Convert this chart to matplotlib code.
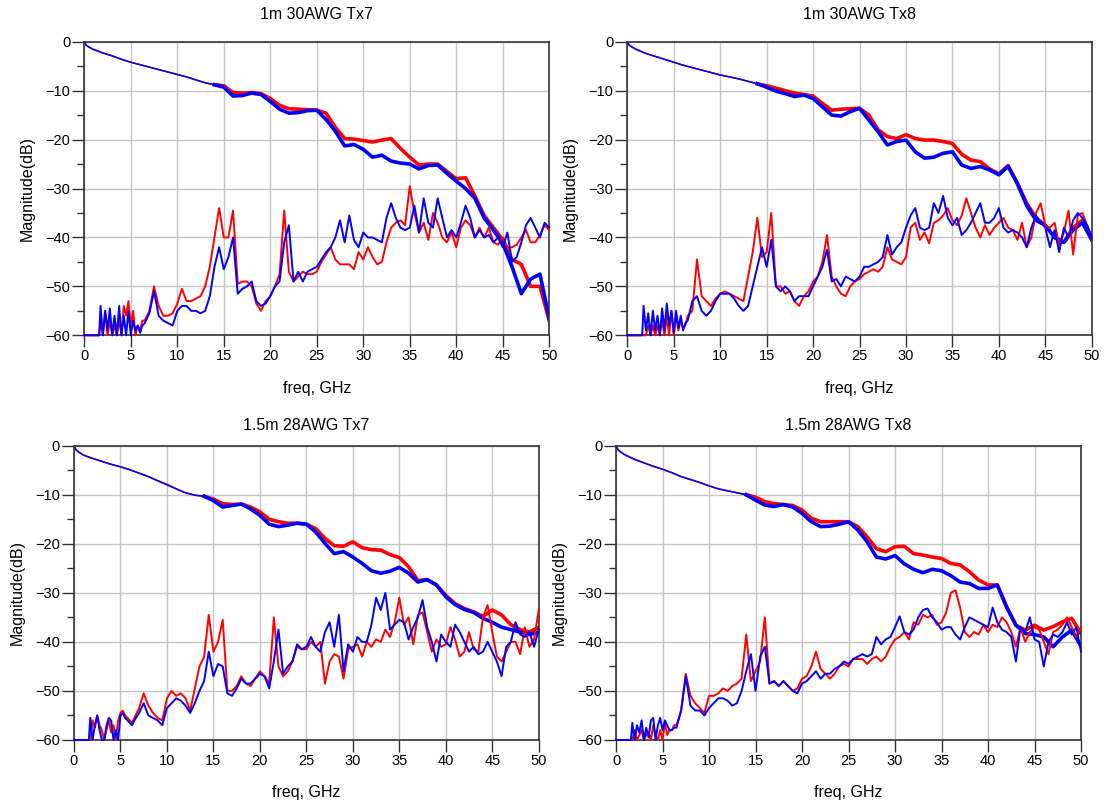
import matplotlib
matplotlib.use("Agg")
import matplotlib.pyplot as plt
import numpy as np

plt.rcParams['font.family'] = ['Liberation Sans', 'DejaVu Sans']

# frequency grids (GHz)
IL_FREQ = [0, 0.2, 0.5] + list(range(1, 51))
XT_FREQ = list(np.concatenate([[0, 1.6], np.arange(1.75, 6.3, 0.25), np.arange(6.5, 50.01, 0.5)]))

TITLES = ["1m 30AWG Tx7", "1m 30AWG Tx8", "1.5m 28AWG Tx7", "1.5m 28AWG Tx8"]

# ---- 1m 30AWG Tx7 ----
tl_il_red = [0, -0.7, -1.1,
             -1.6, -2.3, -2.9, -3.6, -4.2, -4.7, -5.2, -5.7, -6.2, -6.7,
             -7.2, -7.8, -8.4, -8.8, -9.0, -10.4, -10.5, -10.4, -10.6, -11.6,
             -13.0, -13.7, -13.8, -13.9, -14.0, -14.6, -17.5, -19.8, -19.9, -20.2,
             -20.5, -20.1, -19.8, -21.8, -23.6, -25.2, -25.0, -25.0, -26.5, -28.0,
             -27.8, -31.5, -35.5, -38.0, -40.5, -44.5, -45.5, -50.0, -50.0, -57.0]
tl_il_blue = [0, -0.7, -1.1,
              -1.6, -2.3, -2.9, -3.6, -4.2, -4.7, -5.2, -5.7, -6.2, -6.7,
              -7.2, -7.8, -8.4, -8.8, -9.3, -11.1, -11.0, -10.5, -10.8, -12.2,
              -13.8, -14.6, -14.5, -14.1, -14.0, -15.9, -18.3, -21.3, -21.0, -22.0,
              -23.6, -23.2, -24.4, -24.8, -25.0, -26.0, -25.3, -25.2, -26.9, -28.5,
              -30.0, -32.0, -36.0, -38.5, -41.2, -46.0, -51.5, -48.5, -47.5, -56.5]
tl_xt_red = [-60, -60,
             -57, -60, -55, -60, -57, -60, -58, -60, -57, -60, -54, -56, -53, -58, -55, -60, -58, -59, -57,
             -57, -55, -50, -54, -56, -56, -55.5, -53.5, -50.5, -53,
             -53, -52.5, -52, -50, -46, -40, -34, -40, -40, -34.5,
             -49.5, -49, -49, -50, -53.5, -55, -53, -52, -50, -47.5,
             -34.5, -47, -49, -48, -47, -47.5, -47.5, -47, -45, -43.5,
             -42, -44.5, -45.5, -45.5, -45.5, -46.5, -43, -44.5, -42, -44,
             -45.5, -45, -41, -38, -37, -36.5, -37.5, -29.5, -35, -39,
             -37, -40.5, -35, -37, -40, -41, -39, -42, -38, -36.5,
             -37.5, -40, -38, -40, -38, -41, -41.5, -40, -42, -42,
             -41.5, -40, -38.5, -41, -41, -39.5, -37.5, -38.5]
tl_xt_blue = [-60, -60,
              -54, -60, -55, -59, -54.5, -60, -56, -60, -54, -60, -56, -60, -55, -60, -57, -59, -58, -59.5, -58,
              -57.5, -55.5, -51, -56, -57, -57.5, -58, -55, -54, -54,
              -55, -55, -55.5, -55, -52, -46, -42, -46.5, -44, -40,
              -51.5, -50.5, -50, -49, -53, -54, -53.5, -52, -50, -49,
              -41, -37.5, -49, -47, -49, -47, -46.5, -46, -44.5, -43,
              -42, -40, -36.5, -41, -35.5, -40.5, -42, -39, -40, -40,
              -40.5, -41, -36, -33, -36, -38, -38.5, -38, -33.5, -39,
              -32, -37, -38, -32, -36, -40, -38.5, -40, -37, -33.5,
              -36, -40, -38.5, -40, -39.5, -41, -40, -42, -39, -45,
              -44, -41, -37.5, -36, -38, -40, -37, -38]

# ---- 1m 30AWG Tx8 ----
tr_il_red = [0, -0.7, -1.1,
             -1.6, -2.4, -3.0, -3.6, -4.2, -4.8, -5.3, -5.8, -6.3, -6.8,
             -7.2, -7.6, -8.1, -8.6, -9.0, -9.5, -10.0, -10.5, -10.8, -11.1,
             -12.6, -14.0, -13.8, -13.7, -13.6, -15.0, -18.0, -19.4, -19.8, -19.0,
             -19.8, -20.1, -20.1, -20.4, -20.8, -23.0, -24.2, -24.5, -26.0, -27.0,
             -25.3, -29.0, -33.0, -36.0, -37.5, -40.0, -41.0, -38.0, -36.5, -40.0]
tr_il_blue = [0, -0.7, -1.1,
              -1.6, -2.4, -3.0, -3.6, -4.2, -4.8, -5.3, -5.8, -6.3, -6.8,
              -7.2, -7.6, -8.1, -8.6, -9.3, -10.1, -10.6, -11.2, -10.9, -11.6,
              -13.3, -15.0, -15.2, -14.3, -13.6, -16.0, -18.4, -21.1, -20.4, -20.1,
              -22.5, -23.8, -23.6, -22.8, -22.5, -25.2, -25.9, -25.5, -26.2, -27.2,
              -25.5, -29.0, -33.5, -36.5, -37.5, -40.0, -41.0, -38.5, -37.0, -40.5]
tr_xt_red = [-60, -60,
             -60, -60, -58, -60, -58, -60, -58, -60, -57, -60, -56, -60, -55, -60, -56, -59, -57, -58.5, -58,
             -56, -55, -44.5, -52, -53, -54, -52.5, -51.5, -51, -51.5,
             -52, -52.5, -53, -48, -43, -36, -44, -43, -35, -50,
             -50, -51.5, -51, -53, -54, -52, -51, -49, -48, -45,
             -39.5, -48, -50, -51.5, -52, -50, -49, -48.5, -47.5, -47,
             -46.5, -47, -46, -42, -44.5, -45, -45.5, -44, -38, -37,
             -40.5, -39, -41.2, -37, -36.5, -35.5, -34, -36.5, -37.5, -35.5,
             -32, -35, -38, -40, -37.5, -39.5, -38, -37, -36, -38,
             -38.5, -40.5, -37, -42, -40, -35, -33, -37.5, -38, -37,
             -41.5, -39, -34.5, -43.5, -35.5, -35, -37.5, -40]
tr_xt_blue = [-60, -60,
              -54, -59, -55.5, -60, -55, -59, -56, -60, -54.5, -59, -53.5, -58, -55, -59.5, -55, -58.5, -56, -59, -57.5,
              -57, -53, -52, -55, -56, -55, -53, -51.5, -51.5, -51.5,
              -52.5, -54, -55, -54, -50, -46, -42, -46, -40.5, -50,
              -51, -50, -51, -53, -52, -52, -52, -50, -48, -46,
              -42.5, -49, -48.5, -50, -48, -48.5, -49, -48, -46, -46,
              -45.5, -45, -44, -39.5, -43.5, -42, -41, -38, -35.5, -34,
              -38, -38.5, -38, -33, -35, -31.5, -36, -37.5, -36, -39.5,
              -38.5, -37, -35, -33, -37, -37, -36, -34, -38, -39,
              -38.5, -39, -40, -42, -38, -35.5, -37, -38, -42, -38.5,
              -43, -38, -40, -36.5, -35, -36, -37.5, -40]

# ---- 1.5m 28AWG Tx7 ----
bl_il_red = [0, -0.8, -1.3,
             -1.9, -2.6, -3.2, -3.8, -4.3, -4.9, -5.6, -6.3, -7.2, -8.0,
             -8.8, -9.6, -10.1, -10.3, -10.9, -11.8, -12.0, -11.9, -12.5, -13.5,
             -15.0, -15.5, -15.8, -15.8, -16.0, -16.9, -18.9, -20.4, -20.5, -19.6,
             -20.8, -21.2, -21.3, -22.2, -22.8, -24.7, -27.5, -27.3, -28.4, -30.5,
             -32.2, -33.2, -33.9, -34.8, -33.5, -34.5, -36.5, -37.5, -38.0, -37.0]
bl_il_blue = [0, -0.8, -1.3,
              -1.9, -2.6, -3.2, -3.8, -4.3, -4.9, -5.6, -6.3, -7.1, -7.9,
              -8.8, -9.6, -10.1, -10.3, -11.2, -12.5, -12.2, -11.9, -12.9, -14.2,
              -16.0, -16.5, -16.2, -15.8, -16.0, -17.6, -19.9, -22.0, -21.6, -22.7,
              -24.0, -25.5, -26.0, -25.6, -24.8, -26.0, -27.8, -27.3, -28.4, -30.8,
              -32.4, -33.4, -34.0, -35.2, -36.0, -37.0, -37.5, -38.0, -38.5, -38.0]
bl_xt_red = [-60, -60,
             -60, -56, -57.5, -55, -57, -58, -60, -58, -56, -58.5, -57, -60, -56, -54.5, -54, -55, -55.5, -56, -56.5,
             -55.5, -53.5, -50.5, -53, -54.5, -55.5, -56, -51.5, -50, -51,
             -50.5, -51.5, -54, -49.5, -45, -43, -34.5, -42, -40, -35.5,
             -50, -50, -49, -47, -48.5, -49, -47.5, -46, -47, -48.5,
             -35, -45, -47, -46, -44, -41, -41.5, -41.5, -40, -41,
             -40, -48.5, -44, -42.5, -43, -47.5, -41.5, -41, -40.5, -43,
             -40, -41, -39.5, -40, -37.5, -39, -36, -31, -36.5, -35,
             -40.5, -34.5, -34, -38, -42, -39.5, -41, -40.5, -37, -39.5,
             -43, -42, -38, -41.5, -42, -35, -32.5, -38, -43, -44,
             -42, -40, -40, -42.5, -37, -41, -39.5, -33.5]
bl_xt_blue = [-60, -60,
              -55.5, -60, -57, -55, -58, -60, -60, -57, -55.5, -56, -60, -58, -60, -55, -54.5, -55.5, -56, -56.5, -57,
              -56, -54.5, -52.5, -55, -55.5, -56, -57, -53.5, -52.5, -51.5,
              -52, -53, -54.5, -52.5, -50, -48, -42, -47, -44.5, -45,
              -50.5, -51, -49.5, -47.5, -48.5, -48.5, -47.5, -46.5, -47, -49.5,
              -44, -37.5, -46.5, -45, -44, -40.5, -41.5, -41, -39, -41,
              -42, -38, -36, -41, -34.5, -46, -40.5, -42, -39, -40,
              -40, -36.5, -31, -33.5, -30, -37.5, -36.5, -35.5, -36, -39.5,
              -37, -35, -31.5, -37, -40, -44, -38.5, -40, -41, -36.5,
              -38, -40, -42, -41, -42.5, -42, -40, -42, -44, -47,
              -41, -40, -36, -38.5, -39, -38, -41, -37.5]

# ---- 1.5m 28AWG Tx8 ----
br_il_red = [0, -0.8, -1.3,
             -1.9, -2.8, -3.5, -4.2, -4.8, -5.5, -6.3, -6.9, -7.5, -8.2,
             -8.8, -9.2, -9.6, -10.0, -10.5, -11.4, -11.8, -12.0, -12.2, -13.1,
             -14.8, -15.5, -15.5, -15.5, -15.5, -16.5, -18.6, -21.0, -21.6, -20.6,
             -20.5, -22.0, -22.3, -22.7, -23.0, -24.0, -24.3, -25.7, -27.4, -28.4,
             -28.4, -32.9, -36.6, -37.6, -36.6, -37.6, -36.9, -35.9, -35.2, -38.3]
br_il_blue = [0, -0.8, -1.3,
              -1.9, -2.8, -3.5, -4.2, -4.8, -5.5, -6.3, -6.9, -7.5, -8.2,
              -8.8, -9.2, -9.6, -10.0, -11.1, -12.1, -12.4, -12.0, -12.5, -13.8,
              -15.5, -16.5, -16.4, -16.0, -15.5, -17.2, -19.6, -22.7, -23.1, -22.4,
              -24.1, -25.2, -25.9, -25.2, -25.5, -26.5, -27.8, -28.1, -29.1, -29.1,
              -28.4, -32.9, -36.6, -38.3, -38.5, -39.0, -41.0, -39.0, -37.6, -40.9]
br_xt_red = [-60, -60,
             -60, -58, -60, -59, -58, -60, -59, -58.5, -60, -57, -59, -60, -58, -60, -56.5, -59, -58, -58, -57,
             -57, -54, -46.5, -51, -52.5, -53.5, -54.5, -51, -51, -50.5,
             -49.5, -50, -49, -48.5, -47.5, -38.5, -48, -46, -44, -35,
             -48.5, -48, -49, -48, -49, -50, -49.5, -47.5, -47, -45,
             -42, -45.5, -46.5, -47.5, -46.5, -45, -44.5, -45, -43.5, -43.5,
             -43.5, -44.5, -43.5, -43, -44, -43, -41, -39.5, -39, -38,
             -39.5, -36, -36.5, -34.5, -35, -34.5, -36.5, -36, -34, -30,
             -29.5, -33, -38, -39, -38, -38.5, -36.5, -38, -36.5, -37,
             -35, -36, -38, -41, -37, -40, -38, -37, -37.5, -40,
             -42.5, -38, -37.5, -36.5, -35, -37, -39, -37]
br_xt_blue = [-60, -60,
              -56.5, -60, -57, -58.5, -56, -60, -57.5, -59.5, -56, -55.5, -60, -57, -55.5, -58, -56, -57, -58, -58, -57.5,
              -57.5, -54, -47, -53, -54, -54, -55, -53.5, -52.5, -51.5,
              -51.5, -52, -53, -52.5, -50, -46, -42.5, -50, -43, -41,
              -48.5, -48, -49, -48, -49, -50, -50.5, -48.5, -48, -47,
              -46, -47.5, -46.5, -46.5, -45.5, -45, -44, -44.5, -43.5, -43,
              -42.5, -43, -42.5, -39, -40.5, -39.5, -39, -37, -34.8, -38,
              -38.5, -37.5, -35, -33.5, -33.2, -35, -36, -37.5, -37, -37,
              -38.5, -39.5, -37, -35, -35.5, -36, -36.5, -37, -33, -36,
              -37.5, -38, -39, -44, -37, -38, -35, -39.5, -40, -45,
              -40, -38.5, -39, -38, -36, -38.5, -37, -42]

PANELS = [
    (tl_il_red, tl_il_blue, tl_xt_red, tl_xt_blue),
    (tr_il_red, tr_il_blue, tr_xt_red, tr_xt_blue),
    (bl_il_red, bl_il_blue, bl_xt_red, bl_xt_blue),
    (br_il_red, br_il_blue, br_xt_red, br_xt_blue),
]

# axes boxes in figure fraction [left, bottom, width, height]
BOXES = [
    [0.0762, 0.585, 0.4204, 0.3634],
    [0.5672, 0.585, 0.4199, 0.3634],
    [0.0669, 0.0842, 0.4202, 0.3642],
    [0.5570, 0.0842, 0.4204, 0.3642],
]
TITLE_PAD = [16, 16, 11, 11]

fig = plt.figure(figsize=(11.06, 8.08), dpi=100)

for box, title, pad, (il_r, il_b, xt_r, xt_b) in zip(BOXES, TITLES, TITLE_PAD, PANELS):
    ax = fig.add_axes(box)
    # insertion loss: thin at low freq, thick band where the traces spread
    ax.plot(IL_FREQ, il_r, color='#ff0000', lw=1.1)
    ax.plot(IL_FREQ[16:], il_r[16:], color='#ff0000', lw=2.6, solid_joinstyle='round')
    ax.plot(IL_FREQ, il_b, color='#0000ff', lw=1.1)
    ax.plot(IL_FREQ[16:], il_b[16:], color='#0000ff', lw=2.6, solid_joinstyle='round')
    # crosstalk
    ax.plot(XT_FREQ, xt_r, color='#ff0000', lw=1.4, clip_on=False, zorder=3)
    ax.plot(XT_FREQ, xt_b, color='#0000ff', lw=1.4, clip_on=False, zorder=3)

    ax.set_xlim(0, 50)
    ax.set_ylim(-60, 0)
    ax.set_xticks(np.arange(0, 51, 5))
    ax.set_yticks(np.arange(-60, 1, 10))
    ax.set_yticks(np.arange(-55, 0, 10), minor=True)
    ax.grid(True, which='major', color='#c4c4c4', lw=1.0)
    ax.set_axisbelow(True)
    ax.tick_params(axis='both', which='major', direction='out', length=8.5, width=1.0,
                   labelsize=10.5, pad=1.5, color='#333333')
    ax.tick_params(axis='y', which='minor', direction='out', length=5, width=1.0, color='#333333')
    for sp in ax.spines.values():
        sp.set_color('#333333')
        sp.set_linewidth(1.2)

    ax.set_title(title, fontsize=11.5, pad=pad)
    ax.set_xlabel("freq, GHz", fontsize=11.5)
    ax.set_ylabel("Magnitude(dB)", fontsize=11.5)
    ax.xaxis.set_label_coords(0.5, -0.18)
    ax.xaxis.label.set_va('center')
    ax.yaxis.set_label_coords(-0.122, 0.5)
    ax.yaxis.label.set_va('center')

fig.savefig("out.png", dpi=100)
